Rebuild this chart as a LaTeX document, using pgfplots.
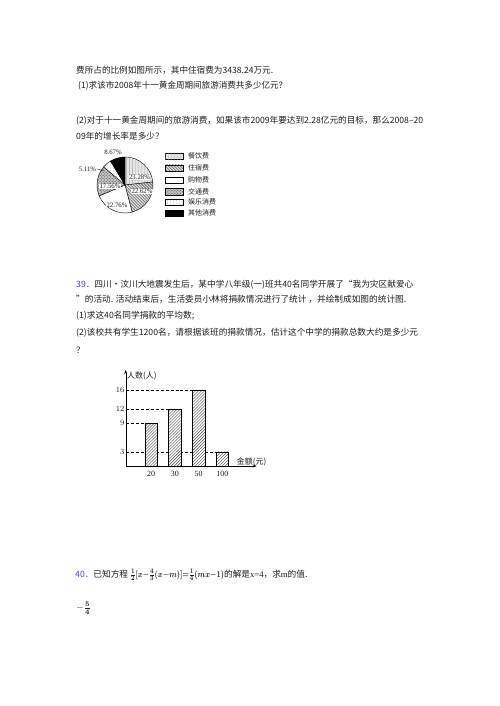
\documentclass[border=0pt]{standalone}
\usepackage{amsmath}
\usepackage{bm}
\usepackage{pgfplots}
\pgfplotsset{compat=1.18}
\usepackage{fontspec}
\setmainfont{Liberation Serif}
\newfontfamily\cjk{Noto Sans CJK SC}
\usetikzlibrary{arrows.meta,patterns}
\definecolor{txt}{RGB}{30,30,30}
\definecolor{qnum}{RGB}{70,70,170}

\begin{document}
\begin{tikzpicture}[x=1bp,y=1bp]
\path[use as bounding box] (0,0) rectangle (500,706);

% ---- page text (y = 706 - pixel row) ----
\tikzset{line/.style={anchor=west,inner sep=0pt,text=txt,font=\cjk\fontsize{8.7}{10}\selectfont}}
\node[line] at (76,636) {\resizebox{197bp}{\height}{费所占的比例如图所示，其中住宿费为3438.24万元.}};
\node[line] at (78,620) {\resizebox{209bp}{\height}{(1)求该市2008年十一黄金周期间旅游消费共多少亿元？}};
\node[line] at (76,585) {\resizebox{347bp}{\height}{(2)对于十一黄金周期间的旅游消费，如果该市2009年要达到2.28亿元的目标，那么2008–20}};
\node[line] at (76,570) {09年的增长率是多少？};

% ---- pie chart ----
\begin{scope}[shift={(125,521)}]
  \def\R{28}
  \draw[fill=gray!20,postaction={pattern=vertical lines,pattern color=gray!70}] (0,0) -- (90:\R) arc[start angle=90,end angle=6.192,radius=\R] -- cycle;
  \draw[fill=gray!25,postaction={pattern=north west lines,pattern color=black!80}] (0,0) -- (6.192:\R) arc[start angle=6.192,end angle=-75.24,radius=\R] -- cycle;
  \draw[fill=white] (0,0) -- (-75.24:\R) arc[start angle=-75.24,end angle=-157.176,radius=\R] -- cycle;
  \draw[fill=gray!45,postaction={pattern=crosshatch dots,pattern color=black!80}] (0,0) -- (-157.176:\R) arc[start angle=-157.176,end angle=-220.392,radius=\R] -- cycle;
  \draw[fill=white,postaction={pattern=dots,pattern color=gray!80}] (0,0) -- (-220.392:\R) arc[start angle=-220.392,end angle=-238.788,radius=\R] -- cycle;
  \draw[fill=black] (0,0) -- (-238.788:\R) arc[start angle=-238.788,end angle=-270,radius=\R] -- cycle;
\end{scope}
\tikzset{pct/.style={inner sep=0.2pt,text=txt,font=\fontsize{6.8}{7}\selectfont}}
\node[pct,fill=white] at (139.5,528.3) {23.28\%};
\node[pct,fill=white] at (142,514.3) {22.62\%};
\node[pct,fill=white] at (117,501) {22.76\%};
\node[pct,fill=white] at (110,519.3) {17.56\%};
\node[pct] at (87.5,537) {5.11\%};
\draw[txt,thin] (97.5,537) -- (104,535);
\node[pct] at (113,553.5) {8.67\%};

% legend of the pie
\tikzset{lg/.style={anchor=west,inner sep=0pt,text=txt,font=\cjk\fontsize{7}{8}\selectfont}}
\draw[fill=gray!20,postaction={pattern=vertical lines,pattern color=gray!70}] (165,546.5) rectangle (183,553);
\node[lg] at (188,549.7) {餐饮费};
\draw[fill=gray!25,postaction={pattern=north west lines,pattern color=black!80}] (165,534.6) rectangle (183,541.1);
\node[lg] at (188,537.8) {住宿费};
\draw[fill=white] (165,522.7) rectangle (183,529.2);
\node[lg] at (188,525.9) {购物费};
\draw[fill=gray!45,postaction={pattern=crosshatch dots,pattern color=black!80}] (165,510.8) rectangle (183,517.3);
\node[lg] at (188,514) {交通费};
\draw[fill=white,postaction={pattern=dots,pattern color=gray!80}] (165,500.5) rectangle (183,507);
\node[lg] at (188,503.7) {娱乐消费};
\draw[fill=black] (165,489.5) rectangle (183,496);
\node[lg] at (188,492.7) {其他消费};

% ---- question 39 ----
\node[line] at (76,421.7) {\textcolor{qnum}{39．}四川·汶川大地震发生后，某中学八年级(一)班共40名同学开展了“我为灾区献爱心};
\node[line] at (76,407) {”的活动. 活动结束后，生活委员小林将捐款情况进行了统计 ，并绘制成如图的统计图.};
\node[line] at (76,390) {(1)求这40名同学捐款的平均数;};
\node[line] at (76,373) {(2)该校共有学生1200名，请根据该班的捐款情况，估计这个中学的捐款总数大约是多少元};
\node[line] at (76,356) {？};

% ---- bar chart ----
\coordinate (O) at (125.7,240);
\begin{axis}[
    at={(O)}, anchor=south west,
    scale only axis, width=131bp, height=96bp,
    xmin=-0.076, xmax=5.45, ymin=0, ymax=20.2,
    axis x line=bottom, axis y line=left,
    axis line style={thin,-{Stealth[length=4bp,width=3bp]}},
    xtick={1,2,3,4}, xticklabels={20,30,50,100},
    ytick={3,9,12,16},
    major tick length=0pt,
    tick label style={font=\fontsize{8}{9}\selectfont,text=txt},
    xticklabel style={yshift=-1.5bp},
    yticklabel style={inner sep=1.2bp},
    clip=false,
]
\addplot[densely dashed,thin,no marks] coordinates {(-0.076,16) (2.736,16)};
\addplot[densely dashed,thin,no marks] coordinates {(-0.076,12) (1.736,12)};
\addplot[densely dashed,thin,no marks] coordinates {(-0.076,9) (0.736,9)};
\addplot[densely dashed,thin,no marks] coordinates {(-0.076,3) (3.736,3)};
\addplot[ybar, bar width=12.5bp, bar shift=0pt, draw=black, thin, fill=white,
    postaction={pattern=north east lines, pattern color=black!70}]
    coordinates {(1,9) (2,12) (3,16) (4,3)};
\end{axis}
\node[anchor=west,inner sep=0pt,text=txt,font=\cjk\fontsize{8}{9}\selectfont] at (127,330.3) {人数(人)};
\node[anchor=west,inner sep=0pt,text=txt,font=\cjk\fontsize{8}{9}\selectfont] at (236.7,244.3) {金额(元)};

% ---- question 40 ----
\node[line] at (75,131) {\textcolor{qnum}{40．}已知方程 \resizebox{94bp}{\height}{\fontsize{9.5}{10}\selectfont$\bm{\frac{1}{2}[x{-}\frac{4}{3}(x{-}m)]{=}\frac{1}{4}(mx{-}1)}$}的解是{\rmfamily x=4}，求{\rmfamily m}的值.};
\node[anchor=west,inner sep=0pt,text=txt,font=\fontsize{10}{11}\selectfont] at (76,98) {$-\bm{\frac{5}{4}}$};
\end{tikzpicture}
\end{document}
